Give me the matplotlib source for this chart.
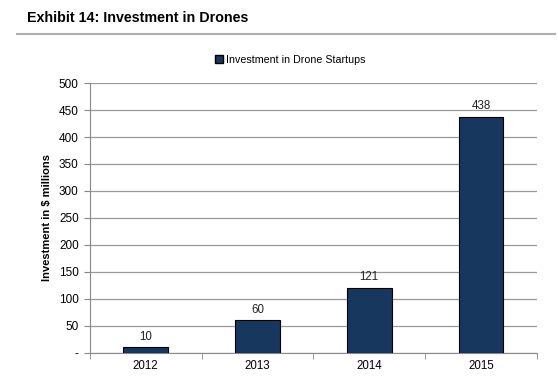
import matplotlib.pyplot as plt
from matplotlib.lines import Line2D
from matplotlib.ticker import FuncFormatter, FixedLocator

years = ['2012', '2013', '2014', '2015']
investment = [10, 60, 121, 438]
series_name = 'Investment in Drone Startups'

plt.rcParams['font.family'] = ['Liberation Sans', 'DejaVu Sans']

fig = plt.figure(figsize=(5.58, 3.81), dpi=100)
ax = fig.add_axes([0.161, 0.074, 0.801, 0.708])

x = range(len(years))
ax.bar(x, investment, width=0.4, color='#17375E', edgecolor='#000000',
       linewidth=0.8, zorder=3, label=series_name)
for xi, v in zip(x, investment):
    ax.text(xi, v + 8, str(v), ha='center', va='bottom', fontsize=8.3, color='#222222')

ax.set_xlim(-0.5, len(years) - 0.5)
ax.set_ylim(0, 500)
ax.set_yticks(range(0, 501, 50))
ax.yaxis.set_major_formatter(FuncFormatter(lambda v, p: '-' if v == 0 else f'{int(v)}'))
ax.set_xticks(list(x))
ax.set_xticklabels(years)
ax.xaxis.set_minor_locator(FixedLocator([i + 0.5 for i in range(-1, len(years))]))
ax.tick_params(axis='x', which='major', length=0, labelsize=8.3, pad=5)
ax.tick_params(axis='x', which='minor', length=4, color='#888888')
ax.tick_params(axis='y', length=4, color='#888888', labelsize=8.5, pad=4)

ax.grid(axis='y', color='#999999', linewidth=0.9, zorder=0)
for s in ['top', 'right']:
    ax.spines[s].set_visible(False)
ax.spines['left'].set_color('#888888')
ax.spines['bottom'].set_color('#888888')

ax.set_ylabel('Investment in $ millions', fontsize=8, fontweight='bold', labelpad=5)

handle = Line2D([], [], marker='s', linestyle='none', markersize=5.5,
                markerfacecolor='#17375E', markeredgecolor='#000000')
fig.legend([handle], [series_name], loc='center', bbox_to_anchor=(0.52, 0.843),
           frameon=False, fontsize=7.7, handletextpad=0.25, handlelength=0.8)

fig.text(0.048, 0.952, 'Exhibit 14: Investment in Drones', fontsize=10.3,
         fontweight='bold', va='center', ha='left')
fig.add_artist(Line2D([0.03, 0.995], [0.91, 0.91], color='#b0b0b0', linewidth=1.5))

fig.savefig('out.png', dpi=100)
